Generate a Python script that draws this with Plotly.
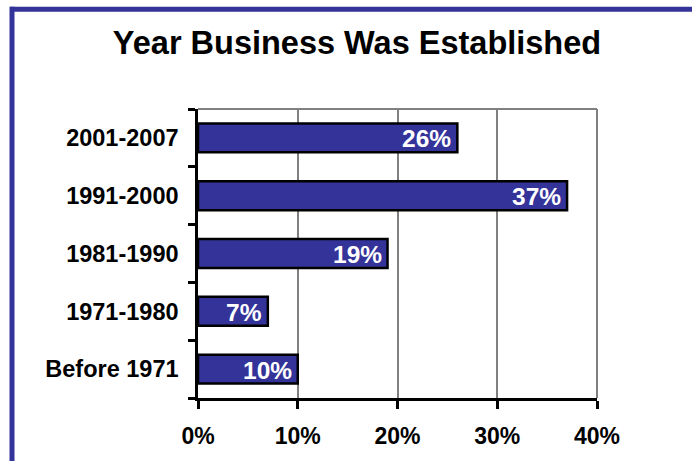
import plotly.graph_objects as go

categories = ["Before 1971", "1971-1980", "1981-1990", "1991-2000", "2001-2007"]
values = [10, 7, 19, 37, 26]
x_ticks = [0, 10, 20, 30, 40]
x_tick_labels = ["0%", "10%", "20%", "30%", "40%"]

W, H = 692, 461
L, R, T, B = 198, 95, 109, 58
pw, ph = W - L - R, H - T - B

def px_x(x):
    return (x - L) / pw

def px_y(y):
    return 1 - (y - T) / ph

FONT = "Liberation Sans, Arial, sans-serif"
BLUE = "#333399"

fig = go.Figure(go.Bar(
    y=categories, x=values, orientation="h",
    marker=dict(color=BLUE, line=dict(color="black", width=2.5)),
    width=0.5,
))

annotations = [
    dict(x=v, y=c, xref="x", yref="y", text=f"<b>{v}%</b>", showarrow=False,
         xanchor="right", yanchor="middle", xshift=-4, yshift=-1,
         font=dict(family=FONT, size=24.5, color="white"))
    for c, v in zip(categories, values)
]

fig.update_layout(
    width=W, height=H,
    margin=dict(l=L, r=R, t=T, b=B),
    paper_bgcolor="white", plot_bgcolor="white",
    showlegend=False,
    annotations=annotations,
    title=dict(text="<b>Year Business Was Established</b>", x=px_x(357), xref="paper",
               xanchor="center", y=1 - 43 / H, yanchor="middle",
               font=dict(family=FONT, size=32.5, color="black")),
    xaxis=dict(range=[0, 40], tickvals=x_ticks, ticktext=x_tick_labels,
               showgrid=True, gridcolor="#808080", gridwidth=2,
               showline=True, linecolor="black", linewidth=2.5,
               ticks="outside", ticklen=8, tickwidth=2.5, tickcolor="black",
               ticklabelstandoff=8,
               tickfont=dict(family=FONT, size=23, color="black", weight="bold"),
               zeroline=False, fixedrange=True),
    yaxis=dict(categoryorder="array", categoryarray=categories,
               showgrid=False, showline=True, linecolor="black", linewidth=2.5,
               ticks="outside", tickson="boundaries", ticklen=7, tickwidth=2.5,
               tickcolor="black", ticklabelstandoff=12,
               tickfont=dict(family=FONT, size=23.5, color="black", weight="bold"),
               fixedrange=True),
    shapes=[
        dict(type="line", xref="paper", yref="paper", x0=0, x1=1, y0=1, y1=1,
             line=dict(color="#808080", width=2), layer="above"),
        dict(type="line", xref="paper", yref="paper", x0=1, x1=1, y0=0, y1=1,
             line=dict(color="#808080", width=2), layer="below"),
        dict(type="line", xref="paper", yref="paper", x0=px_x(12), x1=px_x(12),
             y0=px_y(5), y1=px_y(470), line=dict(color=BLUE, width=5)),
        dict(type="line", xref="paper", yref="paper", x0=px_x(10), x1=px_x(700),
             y0=px_y(7.5), y1=px_y(7.5), line=dict(color=BLUE, width=5)),
    ],
)

fig.write_html("out.html")
